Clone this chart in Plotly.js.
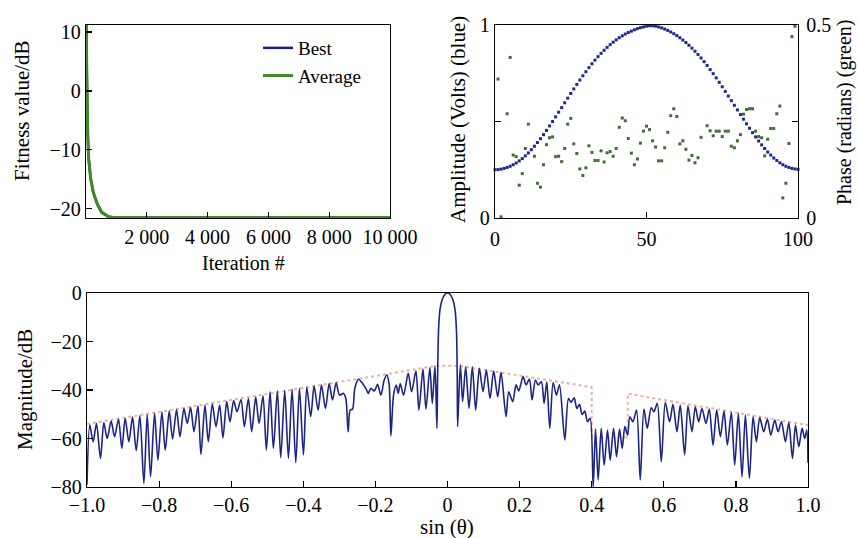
<!DOCTYPE html>
<html>
<head>
<meta charset="utf-8">
<script src="https://cdn.plot.ly/plotly-3.0.1.min.js"></script>
<style>html,body{margin:0;padding:0;background:#fff;}#chart{width:858px;height:538px;}</style>
</head>
<body>
<div id="chart"></div>
<script>
// ---- Panel (a): fitness convergence ----
const iterations = [0, 10, 22, 33, 55, 88, 154, 240, 372, 516, 734, 900, 1500, 3000, 6000, 10000];
const fitnessBest = [11.5, 11.2, 4.2, -0.3, -7.1, -11.6, -15.0, -17.3, -19.3, -20.7, -21.4, -21.5, -21.5, -21.5, -21.5, -21.5];
const fitnessAverage = [11.5, 11.2, 4.3, -0.2, -7.0, -11.5, -14.9, -17.2, -19.2, -20.6, -21.35, -21.5, -21.5, -21.5, -21.5, -21.5];
const iterTickVals = [2000, 4000, 6000, 8000, 10000];
const iterTickText = ['2 000', '4 000', '6 000', '8 000', '10 000'];

// ---- Panel (b): element amplitude and phase ----
const elementIndex = Array.from({length: 101}, (_, i) => i);
const amplitude = [0.250,0.251,0.253,0.257,0.262,0.268,0.276,0.285,0.296,0.308,
  0.322,0.337,0.354,0.372,0.391,0.411,0.432,0.454,0.477,0.500,
  0.524,0.548,0.572,0.597,0.621,0.645,0.669,0.692,0.715,0.737,
  0.758,0.779,0.799,0.818,0.836,0.853,0.869,0.884,0.898,0.911,
  0.923,0.934,0.944,0.953,0.961,0.968,0.975,0.981,0.986,0.990,
  0.994,0.996,0.996,0.994,0.990,0.985,0.979,0.972,0.964,0.955,
  0.945,0.934,0.922,0.909,0.895,0.880,0.864,0.847,0.829,0.810,
  0.790,0.769,0.748,0.726,0.703,0.680,0.656,0.632,0.608,0.584,
  0.560,0.536,0.512,0.488,0.465,0.442,0.420,0.399,0.379,0.360,
  0.342,0.326,0.311,0.298,0.286,0.276,0.268,0.262,0.257,0.254,0.252];
const phaseIndex = [1,2,4,5,6,7,8,9,10,11,
  13,14,15,16,17,18,19,20,21,22,
  23,24,25,26,27,28,29,30,31,32,
  33,34,35,36,37,38,39,40,41,42,
  43,44,45,46,47,48,49,50,51,52,
  53,54,55,56,57,58,59,60,61,62,
  63,64,65,66,67,68,70,71,72,73,
  74,75,76,77,78,79,80,81,82,83,
  84,85,86,87,88,89,90,91,92,93,
  94,95,96,97,98,99];
const phase = [0.36,0.003,0.27,0.416,0.163,0.159,0.085,0.115,0.18,0.243,
  0.16,0.09,0.08,0.138,0.19,0.208,0.21,0.159,0.16,0.146,
  0.18,0.243,0.258,0.192,0.167,0.127,0.11,0.13,0.187,0.17,
  0.149,0.149,0.174,0.145,0.169,0.172,0.16,0.18,0.235,0.259,
  0.252,0.206,0.168,0.138,0.153,0.194,0.225,0.238,0.229,0.2,
  0.184,0.148,0.148,0.182,0.222,0.265,0.283,0.263,0.192,0.2,
  0.178,0.15,0.162,0.143,0.156,0.209,0.239,0.226,0.213,0.225,
  0.225,0.211,0.225,0.225,0.186,0.182,0.2,0.216,0.269,0.281,
  0.283,0.283,0.225,0.211,0.208,0.161,0.204,0.232,0.232,0.27,
  0.29,0.052,0.09,0.193,0.47,0.497];

// ---- Panel (c): radiation pattern and mask ----
const patternSin = [-1.0,-0.9922,-0.9830,-0.9737,-0.9626,-0.9533,-0.9441,-0.9330,-0.9237,-0.9126,
  -0.9033,-0.8941,-0.8839,-0.8737,-0.8635,-0.8533,-0.8422,-0.8330,-0.8237,-0.8126,
  -0.8033,-0.7922,-0.7830,-0.7719,-0.7626,-0.7515,-0.7422,-0.7311,-0.7219,-0.7126,
  -0.7033,-0.6922,-0.6839,-0.6728,-0.6635,-0.6524,-0.6422,-0.6320,-0.6228,-0.6126,
  -0.6033,-0.5932,-0.5839,-0.5728,-0.5635,-0.5524,-0.5432,-0.5320,-0.5228,-0.5117,
  -0.5024,
  -0.4922,-0.4830,-0.4719,-0.4626,-0.4515,-0.4413,-0.4311,-0.4209,-0.4107,-0.3996,
  -0.3904,-0.3793,-0.3700,-0.3589,-0.3496,-0.3385,-0.3283,-0.3191,-0.3089,-0.2996,
  -0.2885,-0.2820,-0.2756,-0.2700,-0.2635,-0.2570,-0.2469,-0.2357,-0.2265,-0.2200,
  -0.2126,-0.2033,-0.1941,-0.1848,-0.1756,-0.1681,-0.1617,-0.1570,-0.1496,-0.1422,
  -0.1367,-0.1311,-0.1219,-0.1089,-0.0996,-0.0876,-0.0793,-0.0681,-0.0598,-0.0489,
  -0.0422,-0.0348,-0.0293,
  -0.0275,-0.025,-0.021,-0.015,-0.008,0,0.008,0.015,0.021,0.025,0.027,
  0.0281,0.0356,0.0420,0.0504,0.0596,0.0689,0.0781,0.0883,0.0985,0.1078,
  0.1180,0.1281,0.1393,0.1485,0.1624,0.1698,0.1809,0.1902,0.1976,0.2096,
  0.2180,0.2272,0.2346,0.2439,0.2513,0.2605,0.2680,0.2754,0.2837,0.2930,
  0.3022,0.3106,0.3254,0.3356,0.3430,0.3513,0.3587,0.3661,0.3735,0.3809,
  0.3883,0.3957,0.4041,0.4106,0.4180,0.4263,0.4346,0.4439,0.4513,0.4606,
  0.4689,0.4772,0.4846,0.4920,0.4994,0.5059,
  0.5143,0.5244,0.5346,0.5448,0.5541,0.5652,0.5726,0.5819,0.5930,0.6041,
  0.6161,0.6254,0.6365,0.6457,0.6578,0.6670,0.6781,0.6874,0.6967,0.7059,
  0.7170,0.7263,0.7365,0.7467,0.7569,0.7670,0.7763,0.7874,0.7967,0.8068,
  0.8170,0.8263,0.8374,0.8476,0.8568,0.8661,0.8772,0.8874,0.8967,0.9078,
  0.9170,0.9263,0.9374,0.9467,0.9569,0.9652,0.9744,0.9837,0.9911,0.9967,1.0];
const patternDb = [-79,-54.5,-61.3,-53.8,-68.2,-53.4,-60.0,-52.8,-59.3,-52.1,
  -64.1,-51.7,-61.3,-51.2,-65.0,-50.6,-78.5,-50.1,-75.8,-49.6,
  -68.9,-49.1,-64.8,-48.7,-60.2,-48.1,-59.3,-47.6,-53.8,-47.2,
  -57.2,-46.6,-66.6,-46.2,-61.3,-45.8,-55.1,-46.2,-59.7,-44.8,
  -53.1,-44.3,-49.0,-43.9,-55.1,-43.5,-57.2,-42.9,-53.8,-42.4,
  -64.8,
  -40.7,-64.1,-40.4,-67.9,-40.2,-68.2,-39.7,-69.9,-39.3,-66.8,
  -38.9,-51.0,-38.4,-48.3,-38.0,-47.6,-37.3,-44.1,-37.0,-42.1,
  -41.4,-43.5,-57.2,-48.3,-47.9,-39.3,-35.6,-37.3,-39.3,-41.4,
  -39.3,-40.4,-37.7,-42.1,-35.9,-33.8,-38.0,-58.9,-42.1,-38.0,
  -41.4,-37.3,-42.1,-33.1,-40.7,-32.2,-48.3,-31.4,-47.9,-30.8,
  -45.5,-30.1,-55.8,
  -35,-16,-7,-2.8,-0.7,0,-0.7,-2.8,-7,-16,-35,
  -55.1,-29.7,-44.8,-30.4,-47.6,-30.4,-48.3,-31.1,-40.7,-31.8,
  -43.5,-32.2,-42.8,-32.7,-51.0,-40.7,-44.8,-37.9,-40.4,-34.5,
  -37.9,-35.5,-44.1,-35.9,-37.9,-36.6,-45.5,-36.6,-55.8,-36.9,
  -42.1,-37.9,-60.6,-43.5,-45.1,-43.2,-47.6,-45.9,-50.1,-48.7,
  -53.1,-51.7,-80,-56.1,-77.1,-55.8,-71.0,-56.5,-68.9,-55.8,
  -67.5,-56.1,-64.1,-55.1,-58.6,-51.0,
  -53.1,-48.3,-77.1,-47.9,-55.8,-47.3,-49.0,-45.5,-69.6,-45.1,
  -53.1,-45.9,-57.2,-46.2,-66.8,-46.5,-57.2,-46.9,-53.1,-47.6,
  -53.8,-47.9,-62.7,-48.3,-59.3,-48.7,-62.7,-49.2,-71.0,-49.6,
  -75.8,-50.3,-76.5,-51.0,-61.3,-51.4,-57.2,-52.0,-58.6,-52.4,
  -57.2,-53.1,-61.3,-53.4,-68.2,-54.5,-63.4,-55.8,-60.0,-56.5,-70];
const maskSin = [-1.0, -0.03, 0.03, 0.4, 0.4, 0.5, 0.5, 1.0];
const maskDb = [-54, -30, -30, -38.8, -59.5, -59.5, -41.5, -54.5];
const sinTickVals = [-1, -0.8, -0.6, -0.4, -0.2, 0, 0.2, 0.4, 0.6, 0.8, 1];
const sinTickText = ['\u22121.0','\u22120.8','\u22120.6','\u22120.4','\u22120.2','0','0.2','0.4','0.6','0.8','1.0'];

const W = 858, H = 538;
const FONT = 'Liberation Serif, Times New Roman, serif';
const px = (x) => x / W;
const py = (y) => 1 - y / H;

const traces = [
  {x: iterations, y: fitnessBest, type: 'scatter', mode: 'lines', name: 'Best',
   line: {color: '#1b1f86', width: 2.5}, xaxis: 'x', yaxis: 'y'},
  {x: iterations, y: fitnessAverage, type: 'scatter', mode: 'lines', name: 'Average',
   line: {color: '#3f8a26', width: 3}, xaxis: 'x', yaxis: 'y'},
  {x: elementIndex, y: amplitude, type: 'scatter', mode: 'markers', showlegend: false,
   marker: {color: '#1f2a8e', size: 3, symbol: 'square'}, xaxis: 'x2', yaxis: 'y2', cliponaxis: false},
  {x: phaseIndex, y: phase, type: 'scatter', mode: 'markers', showlegend: false,
   marker: {color: '#3d6e34', size: 3, symbol: 'square'}, xaxis: 'x2', yaxis: 'y3', cliponaxis: false},
  {x: maskSin, y: maskDb, type: 'scatter', mode: 'lines', showlegend: false,
   line: {color: '#efaea6', width: 2, dash: 'dot'}, xaxis: 'x3', yaxis: 'y4'},
  {x: patternSin, y: patternDb, type: 'scatter', mode: 'lines', showlegend: false,
   line: {color: '#1c2486', width: 1.6, shape: 'spline', smoothing: 0.8}, xaxis: 'x3', yaxis: 'y4'}
];

const axBase = {
  showline: true, mirror: true, linecolor: '#000', linewidth: 1.2,
  ticks: 'inside', ticklen: 6, tickwidth: 1.2, tickcolor: '#000',
  showgrid: false, zeroline: false, fixedrange: true,
  tickfont: {family: FONT, size: 20, color: '#000'}
};

const layout = {
  width: W, height: H,
  margin: {l: 0, r: 0, t: 0, b: 0},
  paper_bgcolor: '#fff', plot_bgcolor: '#fff',
  font: {family: FONT, size: 20, color: '#000'},
  showlegend: true,
  legend: {x: px(258), y: py(29), xanchor: 'left', yanchor: 'top', bgcolor: 'rgba(0,0,0,0)',
           font: {family: FONT, size: 19, color: '#000'}, tracegroupgap: 0, itemwidth: 30},
  xaxis: Object.assign({}, axBase, {domain: [px(86), px(390)], range: [0, 10000], anchor: 'y',
          tickmode: 'array', tickvals: iterTickVals, ticktext: iterTickText, ticklabelstandoff: 1}),
  yaxis: Object.assign({}, axBase, {domain: [py(218), py(25)], range: [-21.6, 11.2], anchor: 'x',
          tickmode: 'array', tickvals: [-20, -10, 0, 10]}),
  xaxis2: Object.assign({}, axBase, {domain: [px(495), px(798)], range: [0, 100], anchor: 'y2',
          tickmode: 'array', tickvals: [0, 50, 100], ticklabelstandoff: 3}),
  yaxis2: Object.assign({}, axBase, {domain: [py(218), py(25)], range: [0, 1], anchor: 'x2',
          tickmode: 'array', tickvals: [0, 0.5, 1], ticktext: ['0', '', '1']}),
  yaxis3: Object.assign({}, axBase, {overlaying: 'y2', side: 'right', anchor: 'x2', range: [0, 0.5],
          mirror: false, tickmode: 'array', tickvals: [0, 0.25, 0.5], ticktext: ['0', '', '0.5'], ticklabelstandoff: 3}),
  xaxis3: Object.assign({}, axBase, {domain: [px(87), px(808)], range: [-1, 1], anchor: 'y4',
          tickmode: 'array', tickvals: sinTickVals, ticktext: sinTickText}),
  yaxis4: Object.assign({}, axBase, {domain: [py(487), py(293)], range: [-80, 0], anchor: 'x3',
          tickmode: 'array', tickvals: [-80, -60, -40, -20, 0]}),
  annotations: [
    {text: 'Fitness value/dB', x: px(22), y: py(111), textangle: -90},
    {text: 'Iteration #', x: px(243), y: py(263), font: {family: FONT, size: 20, color: '#000'}},
    {text: 'Amplitude (Volts) (blue)', x: px(458), y: py(120), textangle: -90},
    {text: 'Phase (radians) (green)', x: px(845), y: py(113), textangle: -90, font: {family: FONT, size: 20, color: '#000'}},
    {text: 'Magnitude/dB', x: px(25), y: py(390), textangle: -90},
    {text: 'sin (\u03b8)', x: px(447), y: py(527)}
  ].map(a => Object.assign({xref: 'paper', yref: 'paper', showarrow: false, xanchor: 'center', yanchor: 'middle',
          font: {family: FONT, size: 21, color: '#000'}}, a))
};

Plotly.newPlot('chart', traces, layout, {staticPlot: true, displayModeBar: false});
</script>
</body>
</html>
